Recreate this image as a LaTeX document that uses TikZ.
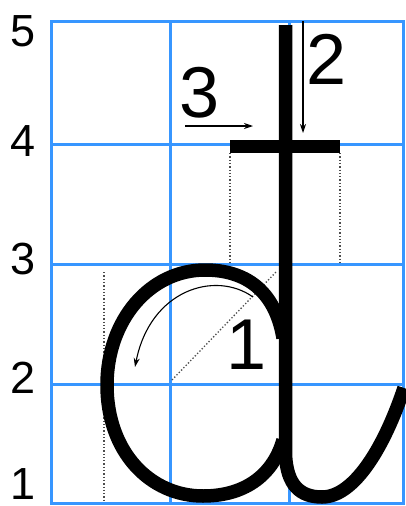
\documentclass[tikz,border=0pt]{standalone}
\usepackage{fontspec}
\setmainfont{Liberation Sans}
\usetikzlibrary{arrows.meta}
\definecolor{gridblue}{RGB}{55,150,255}
\tikzset{
  gridline/.style={draw=gridblue,line width=3pt},
  pen/.style={draw=black,line width=13.5pt},
  guide/.style={draw=black!70,line width=1.3pt,dotted},
  hint/.style={draw=black,line width=1.1pt,-{Stealth[length=9pt,width=6pt]}},
  lab/.style={inner sep=0pt,font=\fontsize{45}{45}\selectfont},
  biglab/.style={inner sep=0pt,font=\fontsize{72}{72}\selectfont},
}
\begin{document}
\begin{tikzpicture}[x=1pt,y=-1pt]
\useasboundingbox (0,0) rectangle (406,506);
% grid
\draw[gridline] (51,21) rectangle (403,503);
\foreach \gx in {170,289} \draw[gridline] (\gx,21) -- (\gx,503);
\foreach \gy in {144,264,384} \draw[gridline] (51,\gy) -- (403,\gy);
% row labels
\node[lab] (l5) at (23,31) {5};
\node[lab] (l4) at (23,141) {4};
\node[lab] (l3) at (23,259) {3};
\node[lab] (l2) at (23,378) {2};
\node[lab] (l1) at (23,484) {1};
% guide dotted lines
\coordinate (gA1) at (230,153); \coordinate (gA2) at (230,263);
\coordinate (gB1) at (340,153); \coordinate (gB2) at (340,263);
\coordinate (gC1) at (104,272); \coordinate (gC2) at (104,502);
\coordinate (gD1) at (172,380); \coordinate (gD2) at (276,272);
\draw[guide] (gA1) -- (gA2);
\draw[guide] (gB1) -- (gB2);
\draw[guide] (gC1) -- (gC2);
\draw[guide] (gD1) -- (gD2);
% letter strokes
\draw[pen] (283,338) .. controls (275,290) and (245,270) .. (205,270)
  .. controls (150,270) and (107,320) .. (107,385)
  .. controls (107,452) and (150,496) .. (203,496)
  .. controls (248,496) and (274,472) .. (283,440);
\draw[pen] (285.5,25) -- (285.5,455)
  .. controls (287,485) and (300,497) .. (322,497)
  .. controls (355,497) and (385,445) .. (404,388);
\draw[pen,line cap=butt] (230,146.5) -- (340,146.5);
% stroke order hints
\coordinate (a1s) at (253,297); \coordinate (a1e) at (135,367);
\coordinate (a2s) at (303,21);  \coordinate (a2e) at (303,133);
\coordinate (a3s) at (185,126); \coordinate (a3e) at (253,126);
\draw[hint] (a1s) .. controls (215,270) and (150,290) .. (a1e);
\draw[hint] (a2s) -- (a2e);
\draw[hint] (a3s) -- (a3e);
\node[biglab] (n1) at (247,345) {1};
\node[biglab] (n2) at (327,59) {2};
\node[biglab] (n3) at (200,93) {3};
\end{tikzpicture}
\end{document}
